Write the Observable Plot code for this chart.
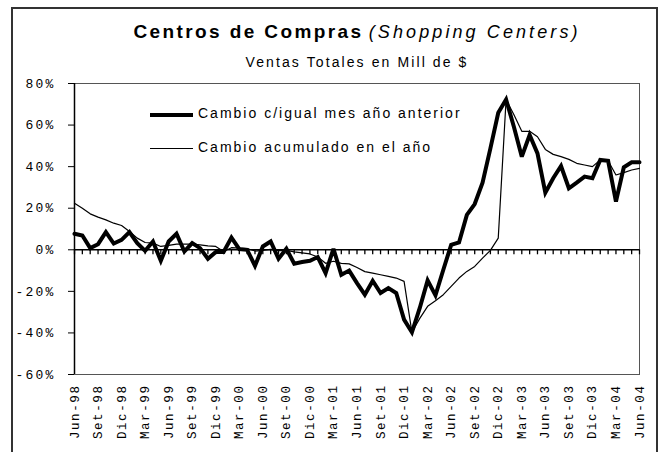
<!DOCTYPE html>
<html>
<head>
<meta charset="utf-8">
<script src="https://cdn.jsdelivr.net/npm/d3@7"></script>
<script src="https://cdn.jsdelivr.net/npm/@observablehq/plot@0.6"></script>
<style>
  html, body { margin: 0; padding: 0; background: #fff; }
  #wrap { position: relative; width: 666px; height: 452px; overflow: hidden; background: #fff; }
  #border { position: absolute; left: 11px; top: 7px; width: 647px; height: 470px; border: 2px solid #333; border-bottom: none; box-sizing: border-box; }
  #chart { position: absolute; left: 0; top: 0; }
  .t { position: absolute; white-space: nowrap; color: #000; font-family: "Liberation Sans", Arial, sans-serif; }
  #title { left: 357px; top: 32px; transform: translate(-50%, -50%); font-size: 19px; }
  #title b { letter-spacing: 2.4px; font-weight: bold; }
  #title i { letter-spacing: 3.1px; font-size: 18px; }
  #subtitle { left: 357px; top: 62px; transform: translate(-50%, -50%); font-size: 14px; letter-spacing: 2.1px; }
  .leg { font-size: 14px; letter-spacing: 2px; transform: translateY(-50%); }
  .legline { position: absolute; background: #000; }
  #chart g[aria-label="y-axis tick label"] text { letter-spacing: 2.2px; }
  #chart g[aria-label="x-axis tick label"] text { letter-spacing: 1.6px; }
</style>
</head>
<body>
<div id="wrap">
  <div id="border"></div>
  <div id="chart"></div>
  <div class="t" id="title"><b>Centros de Compras</b> <i>(Shopping Centers)</i></div>
  <div class="t" id="subtitle">Ventas Totales en Mill de $</div>
  <div class="legline" style="left:150px; top:113px; width:43px; height:4px;"></div>
  <div class="t leg" style="left:198px; top:113px;">Cambio c/igual mes año anterior</div>
  <div class="legline" style="left:150px; top:147.5px; width:43px; height:1.2px;"></div>
  <div class="t leg" style="left:198px; top:147px;">Cambio acumulado en el año</div>
</div>
<script>
// Month names (Spanish abbreviations used on the axis)
const monthNames = ["Ene","Feb","Mar","Abr","May","Jun","Jul","Ago","Set","Oct","Nov","Dic"];
const startYear = 1998, startMonth = 5; // Jun-98
const nMonths = 73; // Jun-98 .. Jun-04

// Category labels (one per month)
const months = [];
for (let k = 0; k < nMonths; k++) {
  const m = (startMonth + k) % 12;
  const y = startYear + Math.floor((startMonth + k) / 12);
  months.push(monthNames[m] + "-" + String(y % 100).padStart(2, "0"));
}

// Labelled ticks on the x axis (every third month)
const xTickLabels = ["Jun-98","Set-98","Dic-98","Mar-99","Jun-99","Set-99","Dic-99","Mar-00","Jun-00","Set-00","Dic-00","Mar-01","Jun-01","Set-01","Dic-01","Mar-02","Jun-02","Set-02","Dic-02","Mar-03","Jun-03","Set-03","Dic-03","Mar-04","Jun-04"];

// Y tick values (%)
const yTicks = [-60, -40, -20, 0, 20, 40, 60, 80];

// Cambio c/igual mes año anterior (%)
const yoy = [
  7.7, 6.9, 0.8, 2.7, 8.5, 3.0, 4.8, 8.5, 3.2, -0.5, 4.0, -5.3, 4.0, 7.7, -0.8, 3.2, 0.8, -4.3, -1.1,
  -1.1, 5.9, 0.3, 0.0, -7.7, 1.6, 4.0, -4.3, 0.5, -6.7, -5.9, -5.3,
  -3.5, -11.2, 0.5, -12.0, -10.0, -16.0, -21.6, -14.9, -20.8, -18.4, -20.8, -33.6,
  -39.7, -28.0, -14.7, -21.9, -9.6, 2.4, 3.5, 16.8, 22.0, 32.3, 48.8, 65.9,
  72.3, 59.1, 44.8, 55.2, 46.4, 27.5, 34.4, 40.3, 29.6, 32.3, 35.2, 34.4,
  43.2, 42.8, 23.2, 39.7, 42.1, 42.1
];

// Cambio acumulado en el año (%)
const cum = [
  22.4, 20.0, 17.3, 15.7, 14.4, 12.8, 11.7, 8.8, 5.6, 3.5, 3.2, 1.6, 2.1, 2.7, 2.7, 2.7, 2.4, 1.9, 1.6,
  -0.8, 1.0, 0.8, 0.6, -0.6, -0.3, 0.2, -0.4, -0.3, -1.0, -1.5, -2.0,
  -3.5, -6.5, -5.5, -6.5, -6.8, -8.5, -10.5, -11.2, -12.0, -12.8, -13.6, -15.2,
  -39.7, -33.0, -27.2, -24.5, -21.6, -17.6, -13.6, -10.4, -8.0, -4.0, -0.3, 5.6,
  72.3, 65.0, 57.0, 57.0, 54.4, 48.3, 45.9, 44.8, 43.5, 41.6, 40.8, 40.0,
  43.2, 42.8, 36.0, 37.1, 38.4, 39.2
];

const data = months.map((m, i) => ({month: m, yoy: yoy[i], cum: cum[i]}));
const monoFont = "'Liberation Mono', 'DejaVu Sans Mono', monospace";

const chart = Plot.plot({
  width: 666,
  height: 452,
  marginLeft: 74,
  marginRight: 27,
  marginTop: 83,
  marginBottom: 78,
  style: {background: "transparent", color: "#000"},
  x: {type: "point", domain: months, padding: 0, axis: null, label: null},
  y: {domain: [-60, 80], axis: null, label: null},
  marks: [
    Plot.frame({stroke: "#555", strokeWidth: 1}),
    Plot.axisY({ticks: yTicks, tickFormat: d => `${d}%`, tickSize: 6, tickPadding: 13, fontSize: 13, fontFamily: monoFont, label: null, stroke: "#000"}),
    Plot.axisX({ticks: xTickLabels, tickRotate: -90, tickSize: 0, tickPadding: 10, fontSize: 12.5, fontFamily: monoFont, label: null}),
    Plot.ruleX([months[0]], {stroke: "#000", strokeWidth: 1.5}),
    Plot.ruleY([0], {stroke: "#000", strokeWidth: 1.5}),
    Plot.ruleX(months, {x: d => d, y1: 0, y2: 0, insetBottom: -5, stroke: "#000", strokeWidth: 1.3}),
    Plot.line(data, {x: "month", y: "cum", stroke: "#000", strokeWidth: 1.2}),
    Plot.line(data, {x: "month", y: "yoy", stroke: "#000", strokeWidth: 4, strokeLinejoin: "miter", strokeMiterlimit: 3})
  ]
});
document.getElementById("chart").appendChild(chart);
</script>
</body>
</html>
